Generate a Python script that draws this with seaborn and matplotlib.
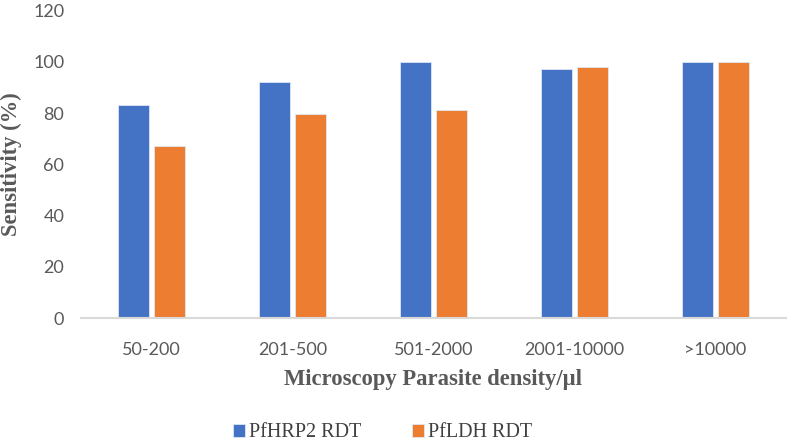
import pandas as pd
import matplotlib.pyplot as plt
import seaborn as sns

# values
density_groups = ['50-200', '201-500', '501-2000', '2001-10000', '>10000']
hrp2_sensitivity = [83, 92, 100, 97, 100]
ldh_sensitivity = [67, 79.5, 81, 98, 100]
series_names = ['PfHRP2 RDT', 'PfLDH RDT']

data = pd.DataFrame({
    'group': density_groups * 2,
    'sensitivity': hrp2_sensitivity + ldh_sensitivity,
    'test': [series_names[0]] * 5 + [series_names[1]] * 5,
})

sns.set_style('white')
plt.rcParams['font.family'] = ['Lato', 'DejaVu Sans']

fig = plt.figure(figsize=(7.89, 4.45), dpi=100)
ax = fig.add_axes([0.1027, 0.2847, 0.8933, 0.6919])

sns.barplot(data=data, x='group', y='sensitivity', hue='test',
            palette=['#4472C4', '#ED7D31'], saturation=1, width=0.51, gap=0.13,
            edgecolor='#dfe6f5', linewidth=0.6, ax=ax, legend=True)

ax.set_ylim(0, 120)
ax.set_yticks(range(0, 121, 20))
ax.set_xlim(-0.5, 4.5)
ax.tick_params(axis='both', length=0, labelsize=13, labelcolor='#595959')
ax.tick_params(axis='x', pad=17)
ax.tick_params(axis='y', pad=12)

for side in ['left', 'top', 'right']:
    ax.spines[side].set_visible(False)
ax.spines['bottom'].set_color('#D9D9D9')
ax.spines['bottom'].set_linewidth(1.5)

label_font = dict(family='Liberation Serif', weight='bold', size=16.3, color='#595959')
ax.set_xlabel('Microscopy Parasite density/µl', labelpad=8, **label_font)
ax.set_ylabel('Sensitivity (%)', labelpad=8, **label_font)

handles, labels = ax.get_legend_handles_labels()
ax.get_legend().remove()
fig.legend(handles, labels, loc='center', bbox_to_anchor=(0.485, 0.027),
           ncol=2, frameon=False, handlelength=0.6, handleheight=0.6,
           handletextpad=0.2, columnspacing=2.5,
           prop={'family': 'Liberation Serif', 'size': 14.5}, labelcolor='#404040')

fig.savefig('out.png', dpi=100)
